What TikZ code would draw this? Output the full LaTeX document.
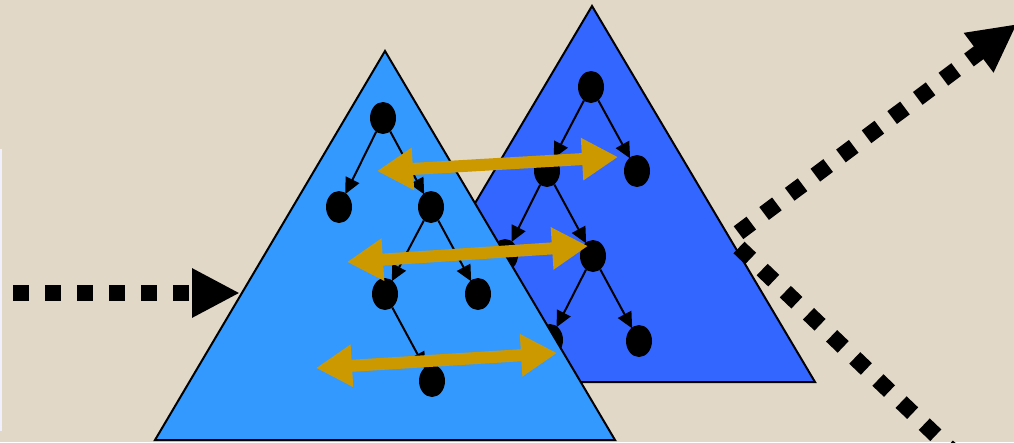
\documentclass[tikz,border=0pt]{standalone}
\usetikzlibrary{shapes.geometric,arrows.meta}
\definecolor{bg}{RGB}{226,216,200}
\definecolor{frontblue}{RGB}{51,153,255}
\definecolor{backblue}{RGB}{51,102,255}
\definecolor{gold}{RGB}{204,153,0}
\tikzset{
  tnode/.style={ellipse,fill=black,minimum width=26pt,minimum height=32pt,inner sep=0pt},
  tedge/.style={line width=2pt,-{Triangle[length=16pt,width=15pt]},shorten >=-1pt},
  tri/.style={draw=black,line width=2pt,line join=miter},
  goldarrow/.style={gold,line width=12pt,{Triangle[length=36pt,width=40pt]}-{Triangle[length=36pt,width=40pt]}},
  dotarrow/.style={line width=16pt,dash pattern=on 16pt off 16pt,-{Triangle[length=48pt,width=46pt]}},
  dotline/.style={line width=16pt,dash pattern=on 16pt off 16pt}
}
\begin{document}
\begin{tikzpicture}[x=1pt,y=-1pt]
\useasboundingbox (0,0) rectangle (1014,442);
\clip (0,0) rectangle (1014,442);
\fill[bg] (0,0) rectangle (1014,442);
\fill[white!85!blue!40] (0,149) rectangle (2,431);
% back triangle
\draw[tri,fill=backblue] (592,6) -- (815,382) -- (369,382) -- cycle;
\node[tnode] (b1) at (591,87) {};
\node[tnode] (b2) at (547,171) {};
\node[tnode] (b3) at (637,171) {};
\node[tnode] (b4) at (505,255) {};
\node[tnode] (b5) at (593,256) {};
\node[tnode] (b6) at (550,340) {};
\node[tnode] (b7) at (639,341) {};
\draw[tedge] (b1) -- (b2);
\draw[tedge] (b1) -- (b3);
\draw[tedge] (b2) -- (b4);
\draw[tedge] (b2) -- (b5);
\draw[tedge] (b5) -- (b6);
\draw[tedge] (b5) -- (b7);
% front triangle
\draw[tri,fill=frontblue] (385,51) -- (615,440) -- (155,440) -- cycle;
\node[tnode] (f1) at (383,118) {};
\node[tnode] (f2) at (339,207) {};
\node[tnode] (f3) at (431,207) {};
\node[tnode] (f4) at (385,294) {};
\node[tnode] (f5) at (478,294) {};
\node[tnode] (f6) at (432,381) {};
\draw[tedge] (f1) -- (f2);
\draw[tedge] (f1) -- (f3);
\draw[tedge] (f3) -- (f4);
\draw[tedge] (f3) -- (f5);
\draw[tedge] (f4) -- (f6);
% gold double arrows
\coordinate (g1a) at (377,171); \coordinate (g1b) at (618,157);
\coordinate (g2a) at (347,262); \coordinate (g2b) at (588,246);
\coordinate (g3a) at (316,368); \coordinate (g3b) at (557,353);
\draw[goldarrow] (g1a) -- (g1b);
\draw[goldarrow] (g2a) -- (g2b);
\draw[goldarrow] (g3a) -- (g3b);
% dotted arrows
\coordinate (inS) at (13,293); \coordinate (inE) at (240,293);
\draw[dotarrow] (inS) -- (inE);
\coordinate (upS) at (738.5,232.7); \coordinate (upE) at (1017,24);
\draw[dotarrow] (upS) -- (upE);
\coordinate (dnS) at (739,247.5); \coordinate (dnE) at (1010,506);
\draw[dotline] (dnS) -- (dnE);
\end{tikzpicture}
\end{document}
